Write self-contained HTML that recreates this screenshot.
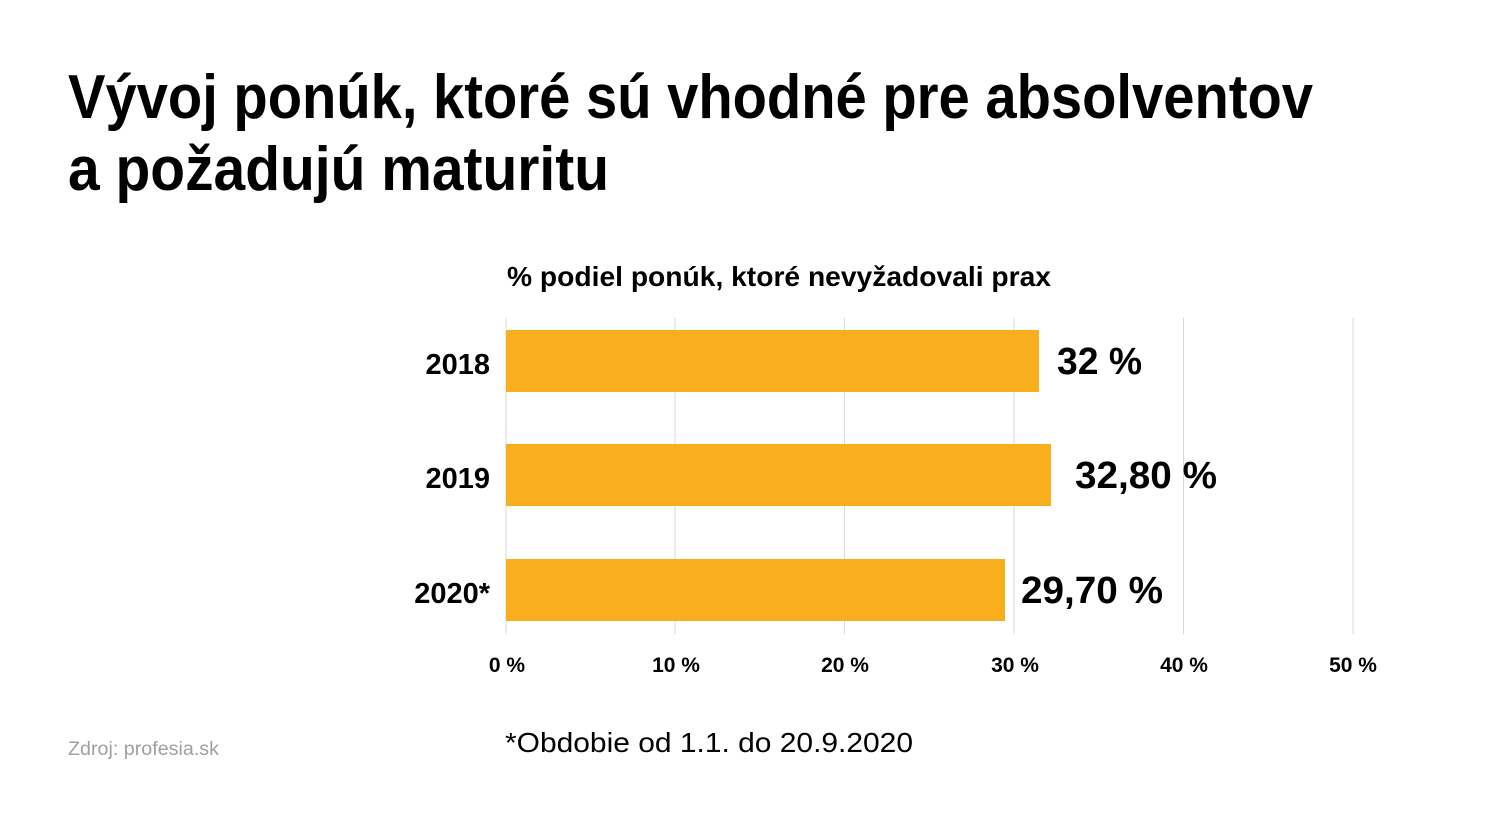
<!DOCTYPE html>
<html><head><meta charset="utf-8"><style>
html,body{margin:0;padding:0;background:#fff;}
svg{display:block;font-family:"Liberation Sans",sans-serif;}
</style></head><body>
<svg width="1500" height="820" viewBox="0 0 1500 820" xmlns="http://www.w3.org/2000/svg">
<rect width="1500" height="820" fill="#fff"/>
<text x="68" y="118" font-size="62" font-weight="bold" fill="#000" textLength="1245" lengthAdjust="spacingAndGlyphs">Vývoj ponúk, ktoré sú vhodné pre absolventov</text>
<text x="68" y="190" font-size="62" font-weight="bold" fill="#000" textLength="541" lengthAdjust="spacingAndGlyphs">a požadujú maturitu</text>
<text x="507" y="286" font-size="28" font-weight="bold" fill="#000" textLength="544" lengthAdjust="spacingAndGlyphs">% podiel ponúk, ktoré nevyžadovali prax</text>
<g stroke="#d9d9d9" stroke-width="1">
<line x1="506" y1="318" x2="506" y2="634"/>
<line x1="675" y1="318" x2="675" y2="634"/>
<line x1="844.5" y1="318" x2="844.5" y2="634"/>
<line x1="1014" y1="318" x2="1014" y2="634"/>
<line x1="1183.5" y1="318" x2="1183.5" y2="634"/>
<line x1="1353" y1="318" x2="1353" y2="634"/>
</g>
<g fill="#F8AE1D">
<rect x="506" y="330" width="533" height="62"/>
<rect x="506" y="444" width="545" height="62"/>
<rect x="506" y="559" width="499" height="62"/>
</g>
<g font-size="29" font-weight="bold" fill="#000" text-anchor="end">
<text x="490" y="374">2018</text>
<text x="490" y="488">2019</text>
<text x="490" y="603">2020*</text>
</g>
<g font-size="38" font-weight="bold" fill="#000">
<text x="1057" y="374" textLength="85" lengthAdjust="spacingAndGlyphs">32 %</text>
<text x="1075" y="488" textLength="142" lengthAdjust="spacingAndGlyphs">32,80 %</text>
<text x="1021" y="603" textLength="142" lengthAdjust="spacingAndGlyphs">29,70 %</text>
</g>
<g font-size="21" font-weight="bold" fill="#000" text-anchor="middle">
<text x="507" y="672">0 %</text>
<text x="676" y="672">10 %</text>
<text x="845" y="672">20 %</text>
<text x="1015" y="672">30 %</text>
<text x="1184" y="672">40 %</text>
<text x="1353" y="672">50 %</text>
</g>
<text x="505" y="752" font-size="28" fill="#000" textLength="408" lengthAdjust="spacingAndGlyphs">*Obdobie od 1.1. do 20.9.2020</text>
<text x="68" y="755" font-size="19" fill="#a0a0a0" textLength="151" lengthAdjust="spacingAndGlyphs">Zdroj: profesia.sk</text>
</svg>
</body></html>
